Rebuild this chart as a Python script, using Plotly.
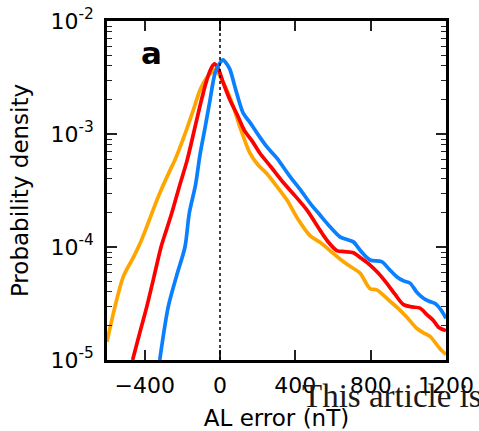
import plotly.graph_objects as go

# ---- data (AL error in nT, probability density) ----
blue_x = [-320, -275, -230, -186, -163, -130, -106, -80, -53, -26, 0, 16, 40, 53, 89, 124, 160, 200, 248,
          300, 372, 430, 478, 531, 584, 637, 670, 708, 750, 797, 858, 900, 938, 975, 1009, 1045, 1080,
          1110, 1142, 1175, 1200]
blue_y = [1.0e-5, 2.95e-5, 5.6e-5, 1.0e-4, 2.0e-4, 3.55e-4, 6.6e-4, 1.12e-3, 2.0e-3, 3.47e-3, 4.27e-3,
          4.52e-3, 4.07e-3, 3.72e-3, 2.29e-3, 1.52e-3, 1.26e-3, 1.0e-3, 7.73e-4,
          6.17e-4, 4.19e-4, 3.16e-4, 2.45e-4, 1.92e-4, 1.51e-4, 1.23e-4, 1.17e-4, 1.11e-4, 9.1e-5,
          7.67e-5, 7.41e-5, 6.31e-5, 5.46e-5, 5.01e-5, 4.79e-5, 3.98e-5, 3.52e-5,
          3.31e-5, 3.16e-5, 2.75e-5, 2.34e-5]

red_x = [-464, -420, -389, -350, -313, -285, -256, -215, -174, -140, -106, -75, -50, -30, -10, 18, 53,
         89, 130, 170, 212, 270, 336, 400, 460, 531, 567, 620, 660, 708, 750, 797, 840, 885, 930, 974,
         1020, 1062, 1100, 1133, 1160, 1200]
red_y = [1.0e-5, 1.9e-5, 2.95e-5, 5.5e-5, 1.0e-4, 1.41e-4, 2.0e-4, 3.47e-4, 5.9e-4, 1.02e-3, 1.78e-3,
         2.82e-3, 3.72e-3, 4.17e-3, 3.8e-3, 2.82e-3, 2.0e-3,
         1.51e-3, 1.07e-3, 8.7e-4, 6.76e-4, 5.13e-4, 3.72e-4, 2.82e-4, 2.14e-4, 1.41e-4, 1.15e-4,
         9.3e-5, 9.1e-5, 8.9e-5, 7.94e-5, 6.92e-5, 5.89e-5, 4.79e-5, 3.8e-5, 3.09e-5,
         2.95e-5, 2.88e-5, 2.51e-5, 2.24e-5, 1.95e-5, 1.82e-5]

orange_x = [-600, -558, -513, -460, -420, -389, -350, -319, -265, -239, -177, -140, -106, -70, -40, -26,
            -10, 0, 36, 71, 106, 159, 200, 248, 300, 354, 416, 478, 531, 584, 640, 690, 743, 797, 832,
            903, 950, 991, 1044, 1080, 1115, 1168, 1200]
orange_y = [1.45e-5, 2.95e-5, 5.5e-5, 8.1e-5, 1.12e-4, 1.51e-4, 2.24e-4, 3.02e-4, 4.79e-4, 5.9e-4,
            1.1e-3, 1.66e-3, 2.45e-3, 3.16e-3, 3.55e-3, 3.72e-3,
            3.47e-3, 3.24e-3, 2.45e-3, 1.74e-3, 1.15e-3, 6.76e-4, 5.37e-4, 4.47e-4, 3.47e-4, 2.63e-4,
            1.74e-4, 1.26e-4, 1.1e-4, 9.3e-5, 7.76e-5, 6.76e-5, 5.89e-5, 4.27e-5, 4.17e-5,
            3.31e-5, 2.82e-5, 2.4e-5, 1.91e-5, 1.74e-5, 1.62e-5, 1.26e-5, 1.12e-5]

x_ticks = [-400, 0, 400, 800, 1200]
x_tick_text = ["\u2212400", "0", "400", "800", "1200"]
y_ticks = [1e-5, 1e-4, 1e-3, 1e-2]
y_tick_text = ["10<sup>-5</sup>", "10<sup>-4</sup>", "10<sup>-3</sup>", "10<sup>-2</sup>"]

FONT = "DejaVu Sans"

fig = go.Figure()
for xs, ys, col in [(orange_x, orange_y, "#ffa500"),
                    (red_x, red_y, "#ff0000"),
                    (blue_x, blue_y, "#0a80ff")]:
    fig.add_trace(go.Scatter(x=xs, y=ys, mode="lines",
                             line=dict(color=col, width=3.7, shape="spline", smoothing=0.8),
                             showlegend=False, cliponaxis=True))

fig.add_shape(type="line", xref="x", yref="paper", x0=0, x1=0, y0=0, y1=1,
              line=dict(color="black", width=1.5, dash="dot"))

fig.add_annotation(text="<b>a</b>", xref="paper", yref="paper", x=0.13, y=0.905,
                   xanchor="center", yanchor="middle", showarrow=False,
                   font=dict(family=FONT, size=31, color="black"))

fig.add_annotation(text="This article is", xref="paper", yref="paper", x=0.568, y=-0.107,
                   xanchor="left", yanchor="middle", showarrow=False,
                   font=dict(family="Liberation Serif", size=33, color="#1a1a1a"))

axis_common = dict(showline=True, linecolor="black", linewidth=2.5, mirror="ticks",
                   ticks="inside", ticklen=10, tickwidth=1.5, tickcolor="#222",
                   showgrid=False, zeroline=False, automargin=False,
                   tickfont=dict(family=FONT, size=22, color="black"))

fig.update_xaxes(range=[-600, 1200], tickmode="array", tickvals=x_ticks, ticktext=x_tick_text,
                 ticklabelstandoff=4,
                 title=dict(text="AL error (nT)", font=dict(family=FONT, size=23, color="black"),
                            standoff=14),
                 **axis_common)
fig.update_yaxes(type="log", range=[-5, -2], tickmode="array", tickvals=y_ticks, ticktext=y_tick_text,
                 ticklabelstandoff=6,
                 minor=dict(ticks="inside", ticklen=5, tickwidth=1.2, tickcolor="#222", dtick="D1",
                            showgrid=False),
                 title=dict(text="Probability density", font=dict(family=FONT, size=23, color="black"),
                            standoff=16),
                 **axis_common)

fig.update_layout(width=479, height=431, margin=dict(l=107, r=33, t=21, b=71),
                  plot_bgcolor="white", paper_bgcolor="white",
                  font=dict(family=FONT, color="black"))

fig.write_html("out.html")
